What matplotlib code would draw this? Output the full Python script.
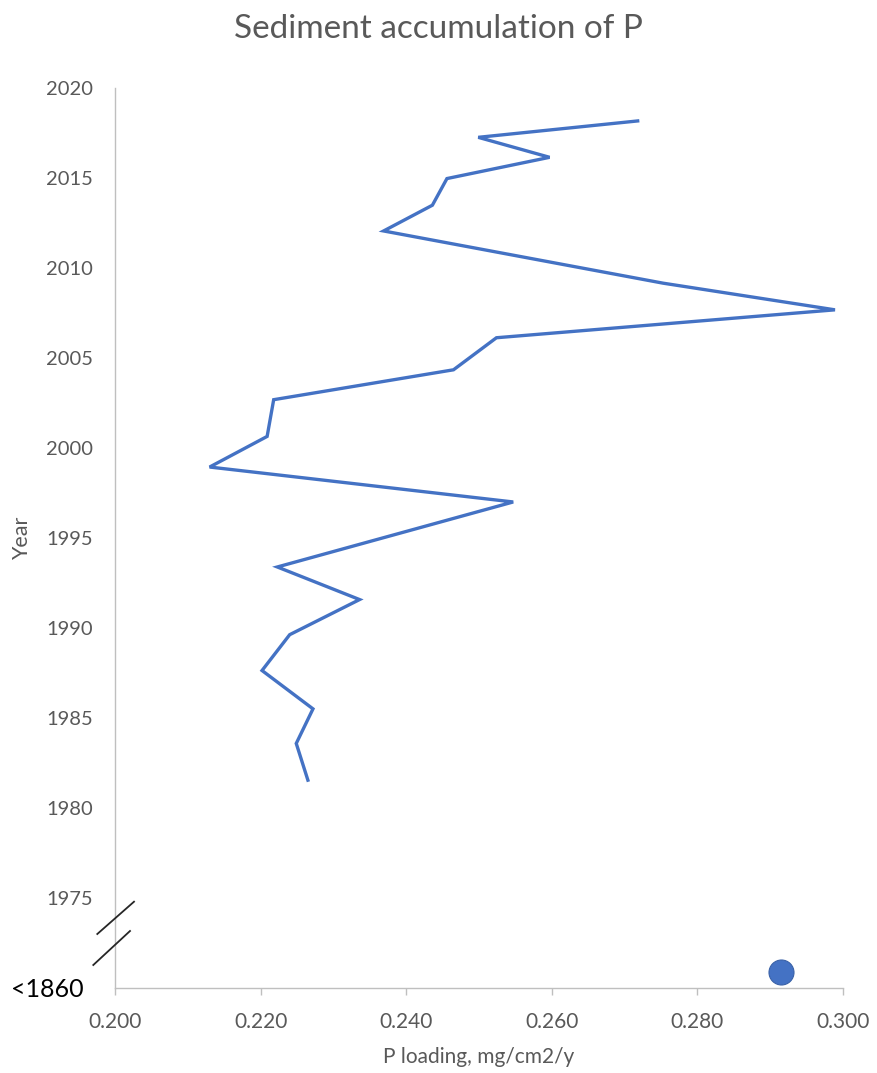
import matplotlib
matplotlib.use("Agg")
import matplotlib.pyplot as plt
from matplotlib.lines import Line2D

plt.rcParams['font.family'] = ['Lato', 'DejaVu Sans']

# Data
years = [2018.17, 2017.26, 2016.15, 2014.97, 2013.49, 2012.06, 2009.16, 2007.68,
         2006.13, 2004.35, 2002.69, 2000.65, 1998.95, 1997.01, 1993.40, 1991.59,
         1989.64, 1987.65, 1985.52, 1983.60, 1981.56]
p_loading = [0.2718, 0.2499, 0.2597, 0.2456, 0.2436, 0.2369, 0.2753, 0.2989,
             0.2524, 0.2465, 0.2218, 0.2209, 0.2130, 0.2547, 0.2223, 0.2336,
             0.2240, 0.2202, 0.2272, 0.2249, 0.2265]
pre_year = [1970.93]
pre_loading = [0.2915]

x_ticks = [0.200, 0.220, 0.240, 0.260, 0.280, 0.300]
y_ticks = [1975, 1980, 1985, 1990, 1995, 2000, 2005, 2010, 2015, 2020]

blue = '#4472C4'
grey_text = '#595959'
axis_grey = '#BFBFBF'

fig = plt.figure(figsize=(8.77, 10.73), dpi=100)
ax = fig.add_axes([0.1311, 0.0789, 0.8301, 0.8391])

ax.plot(p_loading, years, color=blue, lw=2.4, solid_joinstyle='miter')
ax.plot(pre_loading, pre_year, 'o', color=blue, markersize=18,
        markeredgecolor='#3A62A8', markeredgewidth=0.8, clip_on=False)

ax.set_xlim(0.200, 0.300)
ax.set_ylim(1970, 2020)
ax.set_xticks(x_ticks)
ax.set_xticklabels([f"{v:.3f}" for v in x_ticks])
ax.set_yticks(y_ticks)
ax.set_yticklabels([str(v) for v in y_ticks])

for s in ['top', 'right']:
    ax.spines[s].set_visible(False)
for s in ['left', 'bottom']:
    ax.spines[s].set_color(axis_grey)
    ax.spines[s].set_linewidth(1.0)

ax.tick_params(axis='x', colors=grey_text, labelsize=15, length=5, width=1,
               color=axis_grey, pad=12)
ax.tick_params(axis='y', colors=grey_text, labelsize=14.5, length=0, pad=16)

ax.set_xlabel("P loading, mg/cm2/y", color=grey_text, fontsize=15, labelpad=11)
ax.set_ylabel("Year", color=grey_text, fontsize=15.5, labelpad=10)
fig.text(0.5, 0.973, "Sediment accumulation of P", ha='center', va='center',
         fontsize=24, color=grey_text)

# "<1860" label for the pre-break point
fig.text(0.012, 0.0775, "<1860", ha='left', va='center', fontsize=18, color='black')

# Axis break marks
H = 1073.0
W = 877.0
for (x0, y0, x1, y1) in [(97.3, 934, 134, 901.7), (93.3, 965, 130, 931)]:
    fig.add_artist(Line2D([x0 / W, x1 / W], [1 - y0 / H, 1 - y1 / H],
                          transform=fig.transFigure, color='#262626', lw=1.3))

fig.savefig("out.png", dpi=100, facecolor='white')
